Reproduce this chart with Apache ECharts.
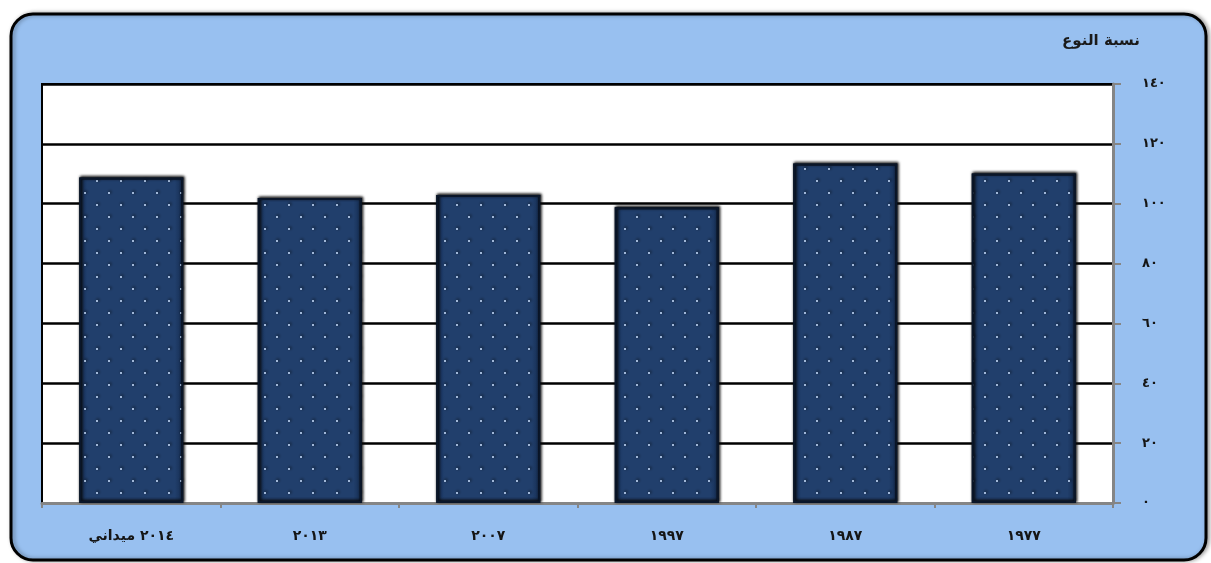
<!DOCTYPE html>
<html><head><meta charset="utf-8">
<script src="https://cdn.jsdelivr.net/npm/echarts@6/dist/echarts.min.js"></script>
<style>html,body{margin:0;padding:0;background:#fff}#c{width:1211px;height:563px}</style>
</head><body><div id="c"></div>
<script>
const categories = ['٢٠١٤ ميداني', '٢٠١٣', '٢٠٠٧', '١٩٩٧', '١٩٨٧', '١٩٧٧'];
const sexRatio = [108.8, 101.9, 102.9, 98.8, 113.4, 110.1];
const yTickLabels = ['٠', '٢٠', '٤٠', '٦٠', '٨٠', '١٠٠', '١٢٠', '١٤٠'];
const yAxisTitle = 'نسبة النوع';

const FONT = 'DejaVu Sans';
const chart = echarts.init(document.getElementById('c'), null, {renderer: 'canvas'});
chart.setOption({
  backgroundColor: '#ffffff',
  animation: false,
  graphic: [{
    type: 'rect', z: -100, silent: true,
    shape: {x: 11, y: 14, width: 1195, height: 546, r: 22},
    style: {fill: '#98C0F0', stroke: '#000', lineWidth: 3,
      shadowColor: 'rgba(0,0,0,0.35)', shadowBlur: 4, shadowOffsetX: 2, shadowOffsetY: 0}
  }],
  title: {
    text: yAxisTitle, right: 66, top: 29,
    textStyle: {fontFamily: FONT, fontSize: 15, fontWeight: 'bold', color: '#1a1a1a'}
  },
  grid: {
    left: 42, right: 98, top: 84, bottom: 60, show: true,
    backgroundColor: '#ffffff', borderColor: '#000', borderWidth: 2
  },
  xAxis: {
    type: 'category', data: categories,
    axisLine: {lineStyle: {color: '#858585', width: 3}},
    axisTick: {show: true, length: 5, lineStyle: {color: '#858585', width: 2}},
    axisLabel: {margin: 26, fontFamily: FONT, fontSize: 14, fontWeight: 'bold', color: '#151515'}
  },
  yAxis: {
    type: 'value', position: 'right', min: 0, max: 140, interval: 20,
    axisLine: {show: true, lineStyle: {color: '#858585', width: 3}},
    axisTick: {show: true, length: 8, lineStyle: {color: '#858585', width: 2}},
    splitLine: {lineStyle: {color: '#000', width: 2.5}},
    axisLabel: {
      margin: 29, fontFamily: FONT, fontSize: 13, fontWeight: 'bold', color: '#151515',
      formatter: v => yTickLabels[Math.round(v / 20)]
    }
  },
  series: [{
    type: 'bar', data: sexRatio, barWidth: 104,
    itemStyle: {
      color: {type: 'linear', x: 0, y: 0, x2: 1, y2: 0, colorStops: [
        {offset: 0, color: '#15305A'}, {offset: 0.08, color: '#213F6C'},
        {offset: 0.92, color: '#213F6C'}, {offset: 1, color: '#142B4F'}]},
      borderColor: '#0A1629', borderWidth: 2,
      shadowColor: 'rgba(40,40,40,0.6)', shadowBlur: 3, shadowOffsetX: 1, shadowOffsetY: -1,
      decal: {
        symbol: 'rect', symbolSize: 1, color: 'rgba(175,197,230,0.9)',
        dashArrayX: [[2, 22], [0, 12, 2, 10]], dashArrayY: [2, 10]
      }
    }
  }]
});
</script></body></html>
